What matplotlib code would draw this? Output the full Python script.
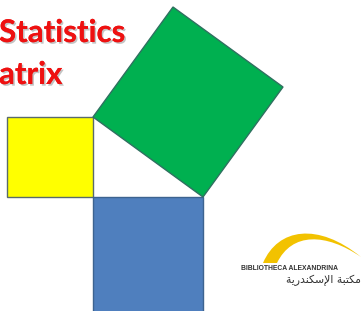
import numpy as np
import matplotlib
matplotlib.use("Agg")
import matplotlib.pyplot as plt
from matplotlib.patches import Polygon, PathPatch
from matplotlib.path import Path
import matplotlib.patheffects as pe

# ---- data (pixel-space geometry of the Pythagorean figure) ----
right_angle_vertex = (93, 197)   # vertex of the right angle
leg_vertical = 80                # side shared with the yellow square
leg_horizontal = 110             # side shared with the blue square
yellow_width = 86
blue_depth = 116
title_lines = ["Statistics", "atrix"]
logo_latin = "BIBLIOTHECA ALEXANDRINA"
# "مكتبة الإسكندرية" in visual order with Arabic presentation forms
logo_arabic = "\uFE94\uFEF3\uFEAD\uFEAA\uFEE8\uFEDC\uFEB3\uFEF9\uFE8D \uFE94\uFE92\uFE98\uFEDC\uFEE3"

W, H = 363, 311
fig = plt.figure(figsize=(W / 100, H / 100), dpi=100)
ax = fig.add_axes([0, 0, 1, 1])
ax.set_xlim(0, W)
ax.set_ylim(H, 0)
ax.axis("off")

cx, cy = right_angle_vertex
A = np.array([cx, cy - leg_vertical])       # top of vertical leg
B = np.array([cx + leg_horizontal, cy])     # end of horizontal leg

# yellow square (on vertical leg)
yellow = [(cx - yellow_width, cy - leg_vertical), (cx, cy - leg_vertical),
          (cx, cy), (cx - yellow_width, cy)]
ax.add_patch(Polygon(yellow, closed=True, facecolor="#FFFF00",
                     edgecolor="#5a6b6b", lw=1.0))

# blue square (on horizontal leg)
blue = [(cx, cy), (cx + leg_horizontal, cy),
        (cx + leg_horizontal, cy + blue_depth), (cx, cy + blue_depth)]
ax.add_patch(Polygon(blue, closed=True, facecolor="#4F7FBE",
                     edgecolor="#3d6390", lw=1.0))

# green square (on hypotenuse)
v = B - A
n = np.array([v[1], -v[0]])
green = [tuple(A), tuple(A + n), tuple(B + n), tuple(B)]
ax.add_patch(Polygon(green, closed=True, facecolor="#00B050",
                     edgecolor="#2f7060", lw=1.0))

# title text
shadow = [pe.withSimplePatchShadow(offset=(1.2, -1.2), shadow_rgbFace="#888888", alpha=0.5), pe.Normal()]
ax.text(-1, 42, title_lines[0], color="#EE1111", fontsize=22.5, fontweight="bold",
        family="Lato", ha="left", va="baseline", path_effects=shadow)
ax.text(-1, 84, title_lines[1], color="#EE1111", fontsize=22.5, fontweight="bold",
        family="Lato", ha="left", va="baseline", path_effects=shadow)

# logo swoosh
verts = [(263, 263), (278, 228), (318, 222), (361, 257),
         (326, 233), (292, 232), (277, 263), (263, 263)]
codes = [Path.MOVETO, Path.CURVE4, Path.CURVE4, Path.CURVE4,
         Path.CURVE4, Path.CURVE4, Path.CURVE4, Path.CLOSEPOLY]
ax.add_patch(PathPatch(Path(verts, codes), facecolor="#F2C200", edgecolor="none"))

ax.text(241, 268, logo_latin, fontsize=4.9, fontweight="bold", color="#333333",
        family="Liberation Sans", ha="left", va="center")
ax.text(361, 280, logo_arabic, fontsize=7.8, color="#333333",
        family="DejaVu Sans", ha="right", va="center")

fig.savefig("out.png", dpi=100, facecolor="white")
